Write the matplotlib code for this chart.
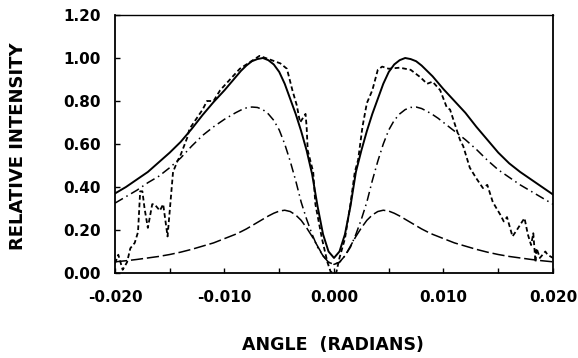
import matplotlib
matplotlib.use("Agg")
import matplotlib.pyplot as plt
from matplotlib.ticker import MultipleLocator

plt.rcParams['font.family'] = ['DejaVu Sans']

# model curves, sampled on a common angle grid (finer near the centre)
model_angle = [-0.020, -0.019, -0.018, -0.017, -0.016, -0.015, -0.014, -0.013, -0.012, -0.011,
               -0.010, -0.0095, -0.009, -0.0085, -0.008, -0.0075, -0.007, -0.0065, -0.006, -0.0055,
               -0.005, -0.0045, -0.004, -0.0035, -0.003, -0.0025, -0.002, -0.0015, -0.001, -0.0005,
               0.0,
               0.0005, 0.001, 0.0015, 0.002, 0.0025, 0.003, 0.0035, 0.004, 0.0045, 0.005,
               0.0055, 0.006, 0.0065, 0.007, 0.0075, 0.008, 0.0085, 0.009, 0.0095, 0.010,
               0.011, 0.012, 0.013, 0.014, 0.015, 0.016, 0.017, 0.018, 0.019, 0.020]

total = [0.37, 0.40, 0.435, 0.47, 0.515, 0.56, 0.61, 0.67, 0.735, 0.795,
         0.85, 0.88, 0.91, 0.94, 0.965, 0.985, 0.995, 1.0, 0.99, 0.97,
         0.935, 0.88, 0.81, 0.74, 0.66, 0.57, 0.46, 0.31, 0.18, 0.10,
         0.07,
         0.10, 0.18, 0.31, 0.47, 0.57, 0.66, 0.74, 0.81, 0.88, 0.935,
         0.97, 0.99, 1.0, 0.995, 0.985, 0.965, 0.94, 0.915, 0.885, 0.855,
         0.80, 0.745, 0.68, 0.62, 0.56, 0.51, 0.47, 0.435, 0.40, 0.365]

component_a = [0.325, 0.355, 0.385, 0.42, 0.45, 0.49, 0.535, 0.59, 0.64, 0.68,
               0.715, 0.73, 0.745, 0.758, 0.768, 0.772, 0.77, 0.76, 0.74, 0.71,
               0.665, 0.60, 0.52, 0.43, 0.33, 0.25, 0.18, 0.12, 0.08, 0.05,
               0.04,
               0.05, 0.08, 0.12, 0.18, 0.25, 0.33, 0.43, 0.52, 0.60, 0.665,
               0.71, 0.74, 0.76, 0.77, 0.772, 0.765, 0.752, 0.737, 0.72, 0.70,
               0.66, 0.62, 0.575, 0.525, 0.48, 0.445, 0.41, 0.38, 0.35, 0.32]

component_b = [0.052, 0.057, 0.063, 0.07, 0.077, 0.086, 0.097, 0.11, 0.125, 0.14,
               0.16, 0.17, 0.18, 0.192, 0.205, 0.22, 0.235, 0.25, 0.265, 0.278,
               0.288, 0.292, 0.286, 0.27, 0.245, 0.21, 0.17, 0.125, 0.08, 0.05,
               0.04,
               0.05, 0.08, 0.125, 0.17, 0.21, 0.245, 0.27, 0.286, 0.292, 0.288,
               0.278, 0.265, 0.25, 0.235, 0.22, 0.205, 0.192, 0.18, 0.17, 0.16,
               0.14, 0.125, 0.11, 0.097, 0.086, 0.077, 0.07, 0.063, 0.057, 0.052]

# measured profile
meas_angle = [-0.0200, -0.0197, -0.0193, -0.0189, -0.0186, -0.0182, -0.0179, -0.0177,
              -0.0175, -0.0173, -0.0170, -0.0166, -0.0164, -0.0159, -0.0156, -0.0152,
              -0.0147, -0.0143, -0.0140, -0.0134, -0.0132, -0.0120, -0.0116, -0.0110,
              -0.0104, -0.0095, -0.0086, -0.0077, -0.0068, -0.0057, -0.0049, -0.0043,
              -0.0038, -0.0034, -0.0031, -0.0026, -0.0025, -0.0024, -0.0019, -0.0017,
              -0.0011, -0.0006, -0.0003, 0.0002, 0.0005, 0.0010, 0.0015, 0.0019,
              0.0022, 0.0026, 0.0030, 0.0035, 0.0040, 0.0044, 0.0050, 0.0060,
              0.0070, 0.0079, 0.0085, 0.0090, 0.0097, 0.0103, 0.0106, 0.0115,
              0.0118, 0.0124, 0.0130, 0.0136, 0.0140, 0.0145, 0.0152, 0.0155,
              0.0158, 0.0163, 0.0167, 0.0172, 0.0174, 0.0177, 0.0180, 0.0182,
              0.0184, 0.0185, 0.0188, 0.0193, 0.0195, 0.0200]
meas_value = [0.045, 0.085, 0.015, 0.05, 0.115, 0.14, 0.19, 0.38,
              0.38, 0.30, 0.21, 0.32, 0.32, 0.29, 0.32, 0.17,
              0.47, 0.52, 0.55, 0.63, 0.67, 0.76, 0.80, 0.80,
              0.85, 0.90, 0.95, 0.98, 1.01, 0.99, 0.975, 0.95,
              0.85, 0.78, 0.70, 0.74, 0.68, 0.57, 0.47, 0.32,
              0.16, 0.05, 0.005, 0.0, 0.07, 0.16, 0.32, 0.47,
              0.525, 0.68, 0.79, 0.85, 0.945, 0.96, 0.95, 0.955,
              0.945, 0.91, 0.88, 0.89, 0.85, 0.77, 0.76, 0.62,
              0.59, 0.49, 0.44, 0.395, 0.41, 0.33, 0.27, 0.24,
              0.26, 0.17, 0.20, 0.24, 0.255, 0.18, 0.13, 0.185,
              0.05, 0.115, 0.07, 0.10, 0.085, 0.07]

xticks = [-0.020, -0.010, 0.000, 0.010, 0.020]
yticks = [0.0, 0.2, 0.4, 0.6, 0.8, 1.0, 1.2]

fig = plt.figure(figsize=(5.78, 3.58), dpi=100)
ax = fig.add_axes([115 / 578, 1 - 273 / 358, 438 / 578, 258 / 358])

ax.plot(model_angle, total, color='black', lw=1.4, ls='-', solid_joinstyle='round')
ax.plot(model_angle, component_a, color='black', lw=1.1, ls=(0, (6, 2.6, 1, 2.6)))
ax.plot(model_angle, component_b, color='black', lw=1.1, ls=(0, (8, 2.5)))
ax.plot(meas_angle, meas_value, color='black', lw=1.3, ls=(0, (2.6, 1.6)))

ax.set_xlim(-0.020, 0.020)
ax.set_ylim(0.0, 1.2)
ax.set_xticks(xticks)
ax.set_xticklabels([f"{t:.3f}" for t in xticks])
ax.set_yticks(yticks)
ax.set_yticklabels([f"{t:.2f}" for t in yticks])
ax.xaxis.set_minor_locator(MultipleLocator(0.005))

ax.tick_params(which='both', direction='in', length=3.5, width=1.0,
               top=False, right=False)
ax.tick_params(axis='x', pad=12, labelsize=11)
ax.tick_params(axis='y', pad=10, labelsize=11)
for lab in ax.get_xticklabels() + ax.get_yticklabels():
    lab.set_fontweight('bold')

for side in ['left', 'bottom', 'right']:
    ax.spines[side].set_linewidth(1.3)
ax.spines['top'].set_linewidth(1.0)

fig.text(333 / 578, 1 - 345 / 358, 'ANGLE  (RADIANS)', ha='center', va='center',
         fontsize=12.5, fontweight='bold')
fig.text(18.5 / 578, 1 - 146 / 358, 'RELATIVE INTENSITY', ha='center', va='center',
         rotation=90, fontsize=13, fontweight='bold')

fig.savefig('out.png', dpi=100)
